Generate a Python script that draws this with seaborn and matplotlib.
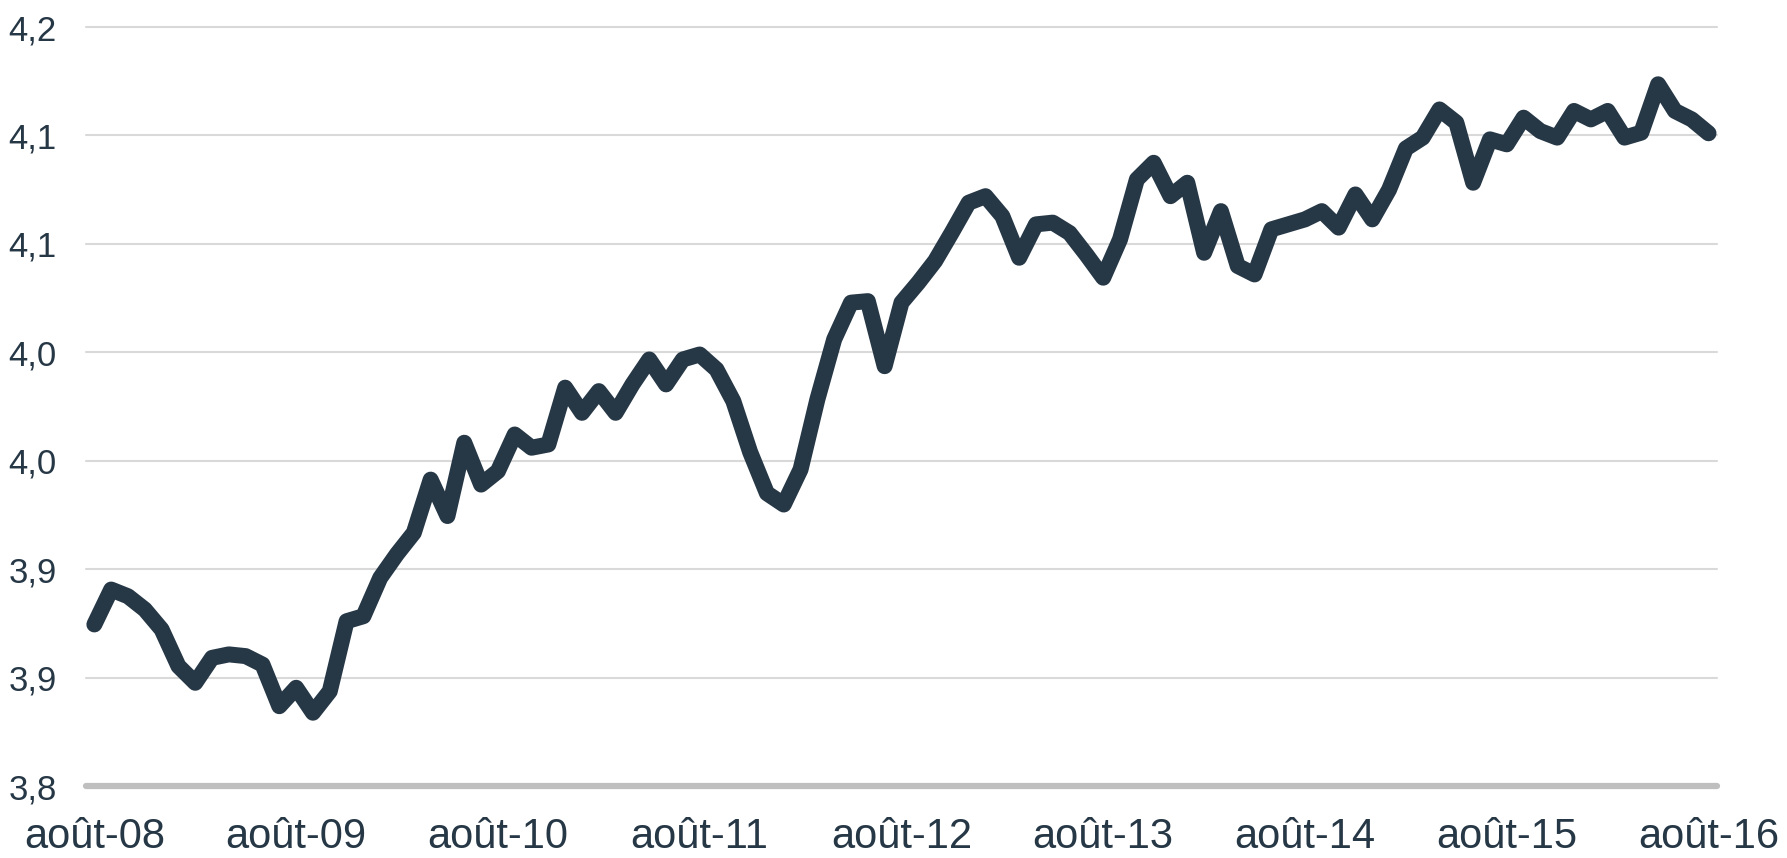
import matplotlib
matplotlib.use("Agg")
import matplotlib.pyplot as plt
import seaborn as sns
import numpy as np
import pandas as pd

# monthly series, août-08 .. août-16
values = [
    3.8745, 3.8906, 3.8875, 3.8814, 3.8722, 3.8553, 3.8476, 3.8591, 3.8607, 3.8599,
    3.8560, 3.8368, 3.8453, 3.8338, 3.8437, 3.8760, 3.8783, 3.8960, 3.9070, 3.9168,
    3.9413, 3.9245, 3.9583, 3.9390, 3.9452, 3.9621, 3.9560, 3.9575, 3.9837, 3.9721,
    3.9821, 3.9721, 3.9852, 3.9967, 3.9852, 3.9967, 3.9990, 3.9921, 3.9775, 3.9540,
    3.9350, 3.9298, 3.9460, 3.9783, 4.0060, 4.0229, 4.0236, 3.9936, 4.0229, 4.0321,
    4.0421, 4.0553, 4.0690, 4.0720, 4.0628, 4.0436, 4.0590, 4.0598, 4.0550, 4.0450,
    4.0344, 4.0521, 4.0797, 4.0874, 4.0720, 4.0782, 4.0459, 4.0651, 4.0398, 4.0359,
    4.0567, 4.0590, 4.0613, 4.0651, 4.0575, 4.0728, 4.0613, 4.0750, 4.0940, 4.0990,
    4.1120, 4.1059, 4.0782, 4.0982, 4.0959, 4.1082, 4.1020, 4.0990, 4.1113, 4.1074,
    4.1113, 4.0990, 4.1013, 4.1236, 4.1113, 4.1074, 4.1010,
]
x_labels = ["août-08", "août-09", "août-10", "août-11", "août-12",
            "août-13", "août-14", "août-15", "août-16"]
y_ticks = [3.80, 3.85, 3.90, 3.95, 4.00, 4.05, 4.10, 4.15]
y_labels = ["3,8", "3,9", "3,9", "4,0", "4,0", "4,1", "4,1", "4,2"]

df = pd.DataFrame({"mois": np.arange(len(values)), "valeur": values})

sns.set_style("white")
plt.rcParams["font.family"] = ["Liberation Sans", "DejaVu Sans"]

dark = "#263746"
fig = plt.figure(figsize=(17.87, 8.58), dpi=100)
ax = fig.add_axes([0.0481, 0.0839, 0.9127, 0.8846])

for y in y_ticks[1:]:
    ax.axhline(y, color="#d9d9d9", lw=1.5, zorder=1, clip_on=False)
ax.axhline(y_ticks[0], color="#bfbfbf", lw=4.5, zorder=1, clip_on=False)

sns.lineplot(data=df, x="mois", y="valeur", ax=ax, color=dark, lw=11.5,
             solid_capstyle="round", solid_joinstyle="round", zorder=3)

ax.set_xlim(-0.5, len(values) - 0.5)
ax.set_ylim(y_ticks[0], y_ticks[-1])
ax.set_xticks(np.arange(0, len(values), 12))
ax.set_xticklabels(x_labels, fontsize=30, color=dark)
ax.set_yticks(y_ticks)
ax.set_yticklabels(y_labels, fontsize=25, color=dark)
ax.tick_params(axis="x", length=0, pad=22)
ax.tick_params(axis="y", length=0, pad=21)
ax.set_xlabel("")
ax.set_ylabel("")
sns.despine(ax=ax, left=True, bottom=True)

fig.savefig("out.png", dpi=100)
